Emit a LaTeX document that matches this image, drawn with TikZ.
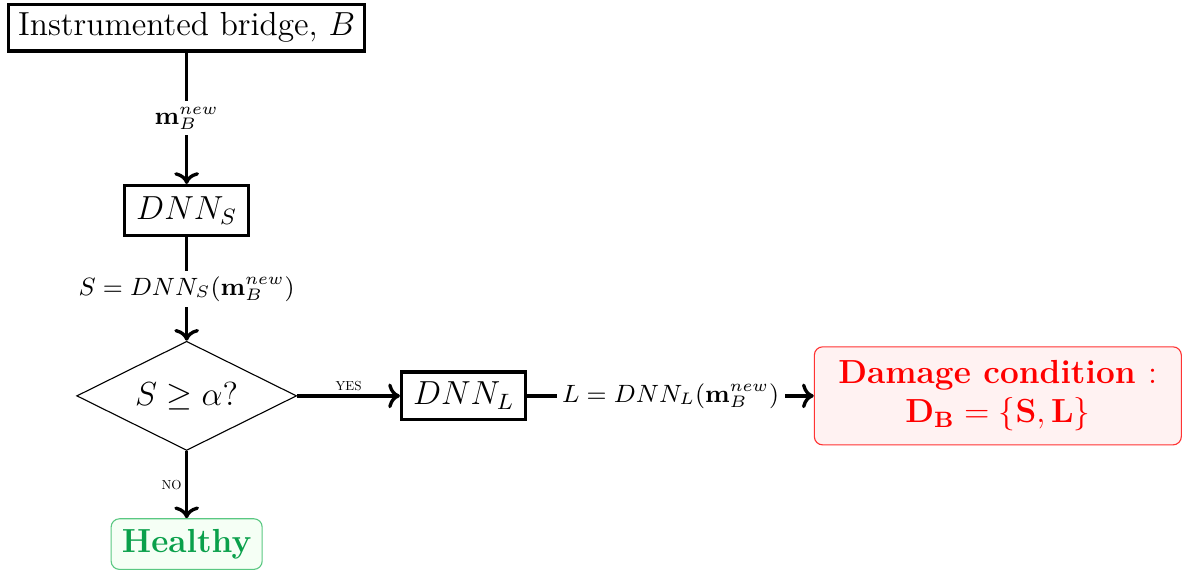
\documentclass[tikz,border=0pt]{standalone}
\usepackage{amsmath,amssymb}
\usepackage{xcolor}
\usepackage{tikz}
\usetikzlibrary{arrows.meta,positioning,shapes.geometric}

\definecolor{okgreen}{RGB}{10,160,75}
\definecolor{okline}{RGB}{90,200,130}

\tikzset{
  block/.style={draw,very thick,font=\large,inner sep=3pt},
  decision/.style={draw,diamond,aspect=2,font=\large,inner sep=1pt,minimum width=2.78cm,minimum height=1.38cm},
  healthybox/.style={draw=okline,fill=green!4,rounded corners=3pt,text=okgreen,font=\large\bfseries,minimum width=1.91cm,minimum height=0.64cm},
  damagebox/.style={draw=red!80,fill=red!5,rounded corners=3pt,text=red,font=\large\bfseries,align=center,minimum width=4.64cm,minimum height=1.24cm},
  flow/.style={very thick,->},
  onedge/.style={fill=white,inner sep=2pt,font=\small},
  tag/.style={scale=0.47}
}

\begin{document}
\begin{tikzpicture}
  \useasboundingbox (0,0) rectangle (14.97,-7.23);

  \node[block,minimum width=4.5cm,minimum height=0.59cm] (bridge) at (2.36,-0.35) {Instrumented bridge, $B$};
  \node[block,minimum width=1.57cm,minimum height=0.63cm,below=1.66cm of bridge] (dnns) {$DNN_S$};
  \node[decision,below=1.31cm of dnns] (check) {$S \geq \alpha$?};
  \node[block,minimum width=1.57cm,minimum height=0.6cm,right=1.30cm of check] (dnnl) {$DNN_L$};
  \node[damagebox,right=3.62cm of dnnl] (damage) {Damage condition $:$\\ $\mathbf{D_B=\{S,L\}}$};
  \node[healthybox,below=0.85cm of check] (healthy) {Healthy};

  \draw[flow] (bridge) -- node[onedge] {$\mathbf{m}_B^{new}$} (dnns);
  \draw[flow] (dnns) -- node[onedge] {$S=DNN_S(\mathbf{m}_B^{new})$} (check);
  \draw[flow] (check) -- node[above,tag] {YES} (dnnl);
  \draw[flow] (dnnl) -- node[onedge] {$L=DNN_L(\mathbf{m}_B^{new})$} (damage);
  \draw[flow] (check) -- node[left,tag] {NO} (healthy);
\end{tikzpicture}
\end{document}
